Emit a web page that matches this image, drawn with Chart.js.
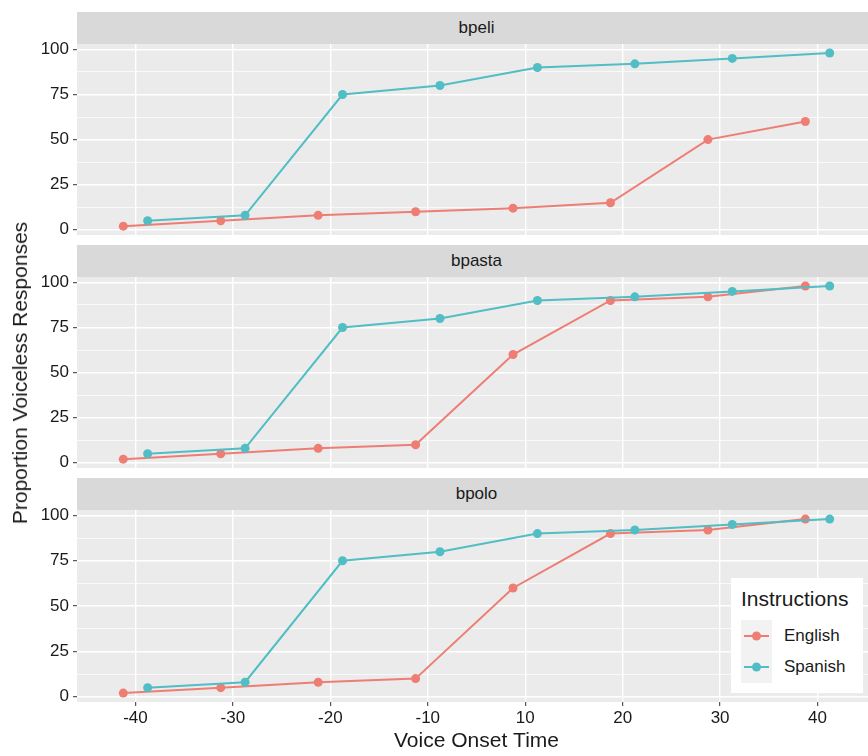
<!DOCTYPE html>
<html>
<head>
<meta charset="utf-8">
<script src="https://cdn.jsdelivr.net/npm/chart.js@4.4.0/dist/chart.umd.min.js"></script>
<style>
  body { margin:0; width:868px; height:756px; position:relative; overflow:hidden; background:#fff;
         font-family:"Liberation Sans", Arial, Helvetica, sans-serif; color:#1a1a1a; }
  .strip { position:absolute; left:77px; width:799px; height:32px; background:#d9d9d9;
           font-size:17px; line-height:32px; text-align:center; color:#1a1a1a; }
  canvas { position:absolute; left:0; }
  #ytitle { position:absolute; left:20px; top:373px; transform:translate(-50%,-50%) rotate(-90deg);
            font-size:21px; white-space:nowrap; }
  #legend { position:absolute; left:731px; top:578px; width:132px; height:115px; background:#fff; }
  #legend .ttl { position:absolute; left:10px; top:9px; font-size:21px; }
  #legend .key { position:absolute; left:10px; top:42px; width:31px; height:63px; background:#f2f2f2; }
  #legend .lab { position:absolute; left:53px; font-size:17px; }
</style>
</head>
<body>
<div class="strip" style="top:12px">bpeli</div>
<div class="strip" style="top:245px">bpasta</div>
<div class="strip" style="top:478px">bpolo</div>

<canvas id="c1" width="876" height="211" style="top:34px"></canvas>
<canvas id="c2" width="876" height="211" style="top:267px"></canvas>
<canvas id="c3" width="876" height="256" style="top:500px"></canvas>

<div id="ytitle">Proportion Voiceless Responses</div>

<div id="legend">
  <div class="ttl">Instructions</div>
  <div class="key">
    <svg width="31" height="63">
      <line x1="3" y1="16" x2="28" y2="16" stroke="#ee7d74" stroke-width="2"/>
      <circle cx="15.5" cy="16" r="4.5" fill="#ee7d74"/>
      <line x1="3" y1="47" x2="28" y2="47" stroke="#50bec4" stroke-width="2"/>
      <circle cx="15.5" cy="47" r="4.5" fill="#50bec4"/>
    </svg>
  </div>
  <div class="lab" style="top:48px">English</div>
  <div class="lab" style="top:79px">Spanish</div>
</div>

<script>
// Voice onset time categories (discrete axis)
const votLabels = ['-40', '-30', '-20', '-10', '10', '20', '30', '40'];

// proportion voiceless responses, per word
const englishBpeli  = [2, 5, 8, 10, 12, 15, 50, 60];
const spanishBpeli  = [5, 8, 75, 80, 90, 92, 95, 98];
const englishBpasta = [2, 5, 8, 10, 60, 90, 92, 98];
const spanishBpasta = [5, 8, 75, 80, 90, 92, 95, 98];
const englishBpolo  = [2, 5, 8, 10, 60, 90, 92, 98];
const spanishBpolo  = [5, 8, 75, 80, 90, 92, 95, 98];

const yTicks = [0, 25, 50, 75, 100];

const engColor = '#ee7d74';
const spaColor = '#50bec4';
const dodge = 0.125;
const fontFam = '"Liberation Sans", Arial, sans-serif';

function pts(vals, shift) {
  return vals.map(function (v, i) { return { x: i + shift, y: v }; });
}

const panelBg = {
  id: 'panelBg',
  beforeDraw: function (chart) {
    const a = chart.chartArea, ctx = chart.ctx;
    ctx.save();
    ctx.fillStyle = '#ebebeb';
    ctx.fillRect(a.left, a.top, a.right - a.left, a.bottom - a.top);
    ctx.restore();
  }
};

function isMajor(v) { return yTicks.indexOf(v) >= 0; }

function makePanel(id, eng, spa, bottom) {
  const line = { showLine: true, borderWidth: 2, pointRadius: 4.5, pointHoverRadius: 4.5,
                 pointBorderWidth: 0, tension: 0 };
  new Chart(document.getElementById(id), {
    type: 'scatter',
    data: {
      datasets: [
        Object.assign({ label: 'English', data: pts(eng, -dodge), borderColor: engColor,
                        backgroundColor: engColor, order: 1 }, line),
        Object.assign({ label: 'Spanish', data: pts(spa, dodge), borderColor: spaColor,
                        backgroundColor: spaColor, order: 0 }, line)
      ]
    },
    options: {
      responsive: false,
      animation: false,
      events: [],
      layout: { autoPadding: false, padding: { top: 10, bottom: bottom ? 0 : 10, left: 0, right: 0 } },
      plugins: { legend: { display: false }, tooltip: { enabled: false } },
      scales: {
        x: {
          type: 'linear', min: -0.6, max: 7.6,
          border: { display: false },
          grid: { color: '#ffffff', lineWidth: 1.4, drawTicks: bottom, tickLength: 4,
                  tickColor: '#333333', tickWidth: 1 },
          afterBuildTicks: function (s) {
            s.ticks = votLabels.map(function (l, i) { return { value: i }; });
          },
          ticks: {
            display: bottom, padding: 2, color: '#1a1a1a', maxRotation: 0, autoSkip: false,
            font: { family: fontFam, size: 17 },
            callback: function (v) { return votLabels[v]; }
          },
          title: {
            display: bottom, text: 'Voice Onset Time', color: '#1a1a1a',
            font: { family: fontFam, size: 21 },
            padding: { top: 0, bottom: 2 }
          },
          afterFit: function (s) {
            s.height = bottom ? 54 : 0;
            s.paddingLeft = 0; s.paddingRight = 0;
          }
        },
        y: {
          type: 'linear', min: -2.9, max: 103,
          border: { display: false },
          grid: {
            color: '#ffffff',
            lineWidth: function (c) { return isMajor(c.tick.value) ? 1.4 : 0.7; },
            tickLength: 4,
            tickColor: function (c) { return isMajor(c.tick.value) ? '#333333' : 'rgba(0,0,0,0)'; },
            tickWidth: 1
          },
          afterBuildTicks: function (s) {
            const t = [];
            for (let v = 0; v <= 100; v += 12.5) t.push({ value: v });
            s.ticks = t;
          },
          ticks: {
            padding: 4, color: '#1a1a1a', autoSkip: false,
            font: { family: fontFam, size: 17 },
            callback: function (v) { return isMajor(v) ? String(v) : ''; }
          },
          afterFit: function (s) {
            s.width = 77;
            s.paddingTop = 0; s.paddingBottom = 0;
          }
        }
      }
    },
    plugins: [panelBg]
  });
}

makePanel('c1', englishBpeli, spanishBpeli, false);
makePanel('c2', englishBpasta, spanishBpasta, false);
makePanel('c3', englishBpolo, spanishBpolo, true);
</script>
</body>
</html>
